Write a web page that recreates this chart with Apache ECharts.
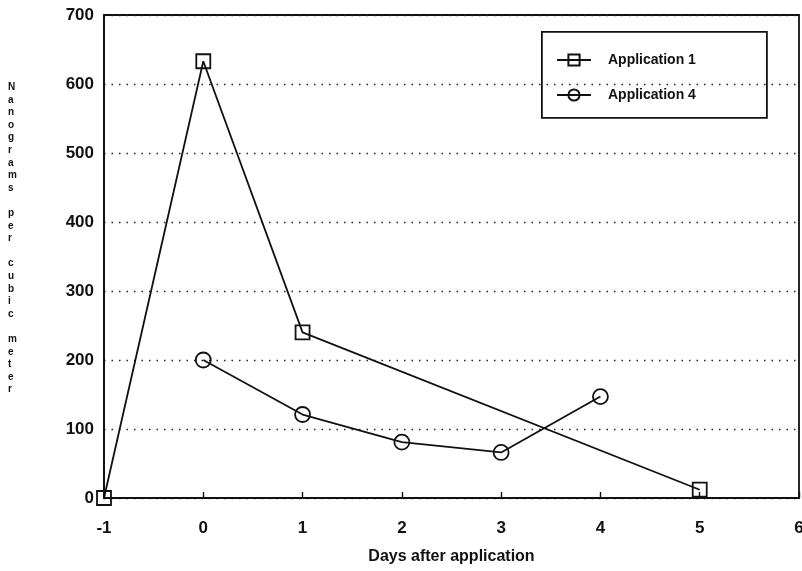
<!DOCTYPE html>
<html>
<head>
<meta charset="utf-8">
<script src="https://cdn.jsdelivr.net/npm/echarts@6/dist/echarts.min.js"></script>
<style>html,body{margin:0;padding:0;background:#fff}#c{width:802px;height:571px}</style>
</head>
<body>
<div id="c"></div>
<script>
const seriesNames = ['Application 1', 'Application 4'];
const app1Days = [-1, 0, 1, 5];
const app1Values = [0, 633, 240, 12];
const app4Days = [0, 1, 2, 3, 4];
const app4Values = [200, 121, 81, 66, 147];
const xTicks = [-1, 0, 1, 2, 3, 4, 5, 6];
const yTicks = [0, 100, 200, 300, 400, 500, 600, 700];
const xTitle = 'Days after application';
const yTitle = 'Nanograms per cubic meter';

const FONT = '"Liberation Sans", Arial, Helvetica, sans-serif';
const chart = echarts.init(document.getElementById('c'), null, {renderer: 'canvas'});

const pairs = (xs, ys) => xs.map((x, i) => [x, ys[i]]);

chart.setOption({
  animation: false,
  backgroundColor: '#fff',
  textStyle: {fontFamily: FONT},
  grid: {left: 104, right: 3, top: 15, bottom: 73, show: true, borderColor: '#111', borderWidth: 1.8, backgroundColor: 'transparent', outerBoundsMode: 'none', containLabel: false},
  xAxis: {
    type: 'value', min: xTicks[0], max: xTicks[xTicks.length - 1], interval: 1,
    name: xTitle, nameLocation: 'middle', nameGap: 51,
    nameTextStyle: {fontFamily: FONT, fontWeight: 'bold', fontSize: 16, color: '#111'},
    axisLine: {show: true, onZero: false, lineStyle: {color: '#111', width: 1.8}},
    axisTick: {show: true, inside: true, length: 6, lineStyle: {color: '#111', width: 1.4}},
    axisLabel: {margin: 22, fontFamily: FONT, fontWeight: 'bold', fontSize: 17, color: '#111'},
    splitLine: {show: false}
  },
  yAxis: {
    type: 'value', min: yTicks[0], max: yTicks[yTicks.length - 1], interval: 100,
    axisLine: {show: true, onZero: false, lineStyle: {color: '#111', width: 1.8}},
    axisTick: {show: false},
    axisLabel: {margin: 10, fontFamily: FONT, fontWeight: 'bold', fontSize: 17, color: '#111'},
    splitLine: {show: true, lineStyle: {color: '#222', width: 1.4, type: [1.5, 6]}}
  },
  legend: {
    orient: 'vertical', left: 551, top: 48, itemGap: 21,
    itemWidth: 34, itemHeight: 14,
    textStyle: {fontFamily: FONT, fontWeight: 'bold', fontSize: 14, color: '#111', padding: [0, 0, 0, 12]},
    data: seriesNames
  },
  graphic: [
    {type: 'rect', left: 541, top: 31, shape: {width: 225, height: 86}, style: {fill: 'transparent', stroke: '#111', lineWidth: 1.8}, z: 10},
    {type: 'text', left: 8, top: 81, style: {text: yTitle.split('').join('\n'), font: 'bold 10px ' + FONT, fill: '#111', lineHeight: 12.6, align: 'center'}, z: 10}
  ],
  series: [
    {
      name: seriesNames[0], type: 'line', data: pairs(app1Days, app1Values),
      symbol: 'rect', symbolSize: 14,
      lineStyle: {color: '#111', width: 1.8},
      itemStyle: {color: 'rgba(255,255,255,0)', borderColor: '#111', borderWidth: 1.8},
      z: 3
    },
    {
      name: seriesNames[1], type: 'line', data: pairs(app4Days, app4Values),
      symbol: 'circle', symbolSize: 15,
      lineStyle: {color: '#111', width: 1.8},
      itemStyle: {color: 'rgba(255,255,255,0)', borderColor: '#111', borderWidth: 1.8},
      z: 3
    }
  ]
});
</script>
</body>
</html>
